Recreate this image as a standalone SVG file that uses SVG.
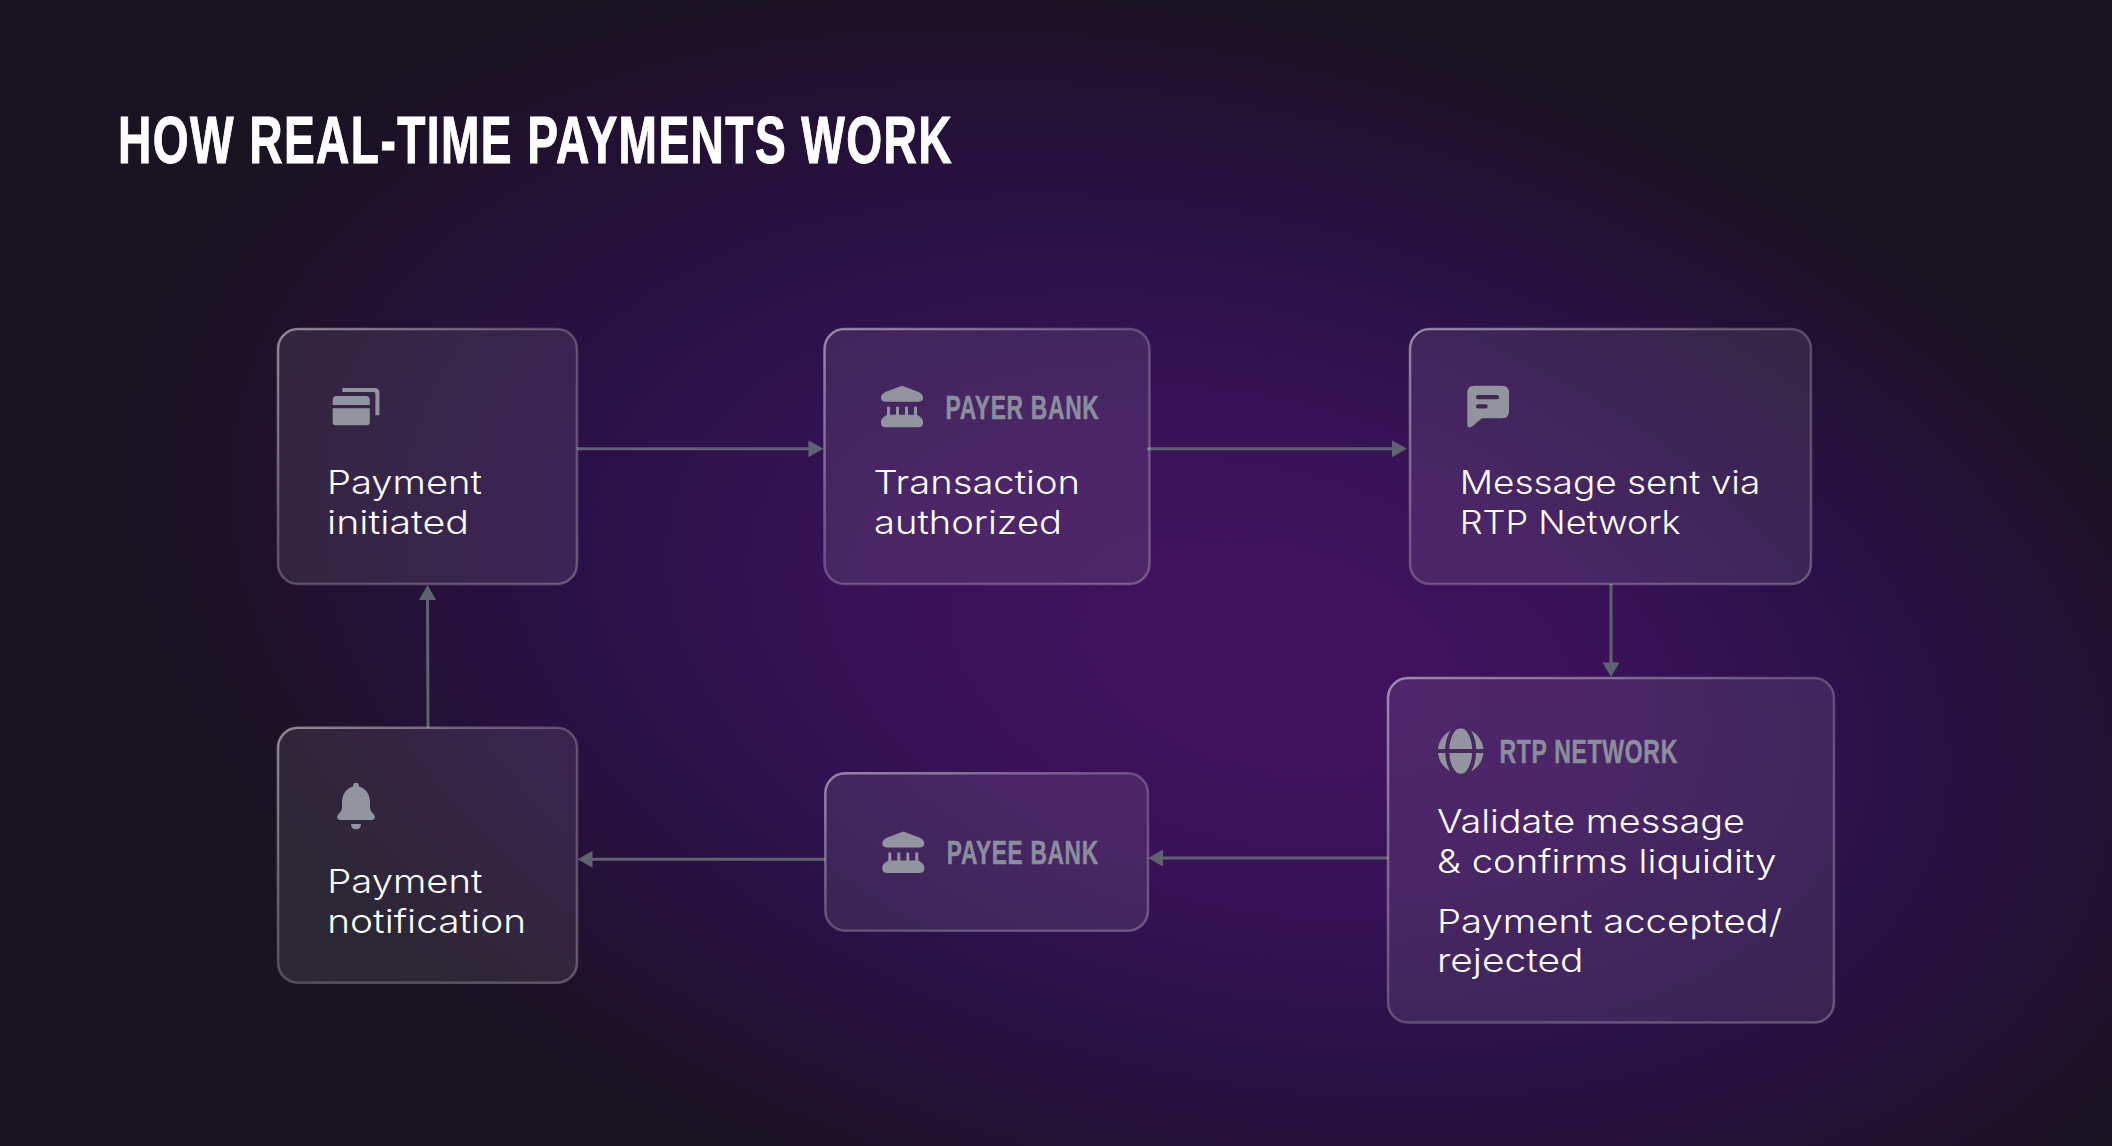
<svg xmlns="http://www.w3.org/2000/svg" xmlns:xlink="http://www.w3.org/1999/xlink" width="2112" height="1146" viewBox="0 0 2112 1146">
<style>
.node{fill:url(#nodeFill);stroke:url(#nodeStroke);stroke-width:2.5}
.body{font-family:"Inter","Liberation Sans",sans-serif;font-size:33px;font-weight:350;fill:#fff}
.title{font-family:"Liberation Sans Narrow","Liberation Sans",sans-serif;font-size:66px;font-weight:700;fill:#fff;stroke:#fff;stroke-width:1;letter-spacing:2px}
.tag{font-family:"Liberation Sans Narrow","Liberation Sans",sans-serif;font-size:33px;font-weight:700;fill:#8b8e9c;stroke:#8b8e9c;stroke-width:.5;letter-spacing:1px}
.icon{fill:#92949f}
.conn{stroke:#5f6270;stroke-width:3;fill:none}
.head{fill:#5f6270}
</style>
<defs>
<radialGradient id="bg" gradientUnits="userSpaceOnUse" cx="0" cy="0" r="1" fx=".08" fy="0" gradientTransform="translate(1200 640) rotate(14) scale(1100 640)">
<stop offset="0" stop-color="#42125f"/>
<stop offset=".33" stop-color="#3a1259"/>
<stop offset=".6" stop-color="#2b1148"/>
<stop offset=".85" stop-color="#211130"/>
<stop offset="1" stop-color="#191322"/>
</radialGradient>
<linearGradient id="nodeFill" x1="0" y1="1" x2="1" y2="0">
<stop offset="0" stop-color="#fff" stop-opacity=".085"/>
<stop offset="1" stop-color="#fff" stop-opacity=".085"/>
</linearGradient>
<linearGradient id="nodeStroke" x1="0" y1="0" x2="1" y2="1">
<stop offset="0" stop-color="#fff" stop-opacity=".48"/>
<stop offset=".5" stop-color="#fff" stop-opacity=".22"/>
<stop offset="1" stop-color="#fff" stop-opacity=".26"/>
</linearGradient>
<g id="bank">
<path d="M21 0 L37 6 Q42 8 42 12 Q42 16 37 16 H5 Q0 16 0 12 Q0 8 5 6 Z"/>
<path d="M6 21h3v9h-3zM15 21h3v9h-3zM24 21h3v9h-3zM33 21h3v9h-3z"/>
<path d="M6 29 H36 L39 31 Q42 33 42 36 V37 Q42 41.600 37 41.600 H5 Q0 41.600 0 37 V36 Q0 33 3 31 Z"/>
</g>
</defs>
<rect width="2112" height="1146" fill="url(#bg)"/>
<text class="title" x="118" y="162.500" textLength="835" lengthAdjust="spacingAndGlyphs">HOW REAL-TIME PAYMENTS WORK</text>
<g id="connectors">
<line class="conn" x1="577" y1="448.700" x2="810" y2="448.700"/><path class="head" d="M823.300 448.700L808.400 440.200V457.200Z"/>
<line class="conn" x1="1147" y1="448.700" x2="1394" y2="448.700"/><path class="head" d="M1407 448.700L1392 440.200V457.200Z"/>
<line class="conn" x1="1611" y1="584" x2="1611" y2="664"/><path class="head" d="M1611 677L1602.500 662.500H1619.500Z"/>
<line class="conn" x1="1388" y1="858" x2="1160" y2="858"/><path class="head" d="M1148.300 858L1163 849.500V866.500Z"/>
<line class="conn" x1="825" y1="859.300" x2="590" y2="859.300"/><path class="head" d="M577.700 859.300L592.500 850.800V867.800Z"/>
<line class="conn" x1="428" y1="727.500" x2="427.500" y2="598"/><path class="head" d="M427.500 585L419 600H436Z"/>
</g>
<g id="node-payment-initiated">
<rect class="node" x="278" y="329" width="299" height="255" rx="20"/>
<path class="icon" d="M342.300 388H374.400Q379.400 388 379.400 393V415.300H375.400V394Q375.400 392 373.400 392H342.300Z"/>
<path class="icon" d="M336.700 396H365.800Q369.800 396 369.800 400V405H332.700V400Q332.700 396 336.700 396ZM332.700 408.300H369.800V422.300Q369.800 425.300 366.800 425.300H335.700Q332.700 425.300 332.700 422.300Z"/>
<text class="body" x="327" y="494" textLength="155" lengthAdjust="spacingAndGlyphs">Payment</text>
<text class="body" x="327" y="534" textLength="142" lengthAdjust="spacingAndGlyphs">initiated</text>
</g>
<g id="node-payer-bank">
<rect class="node" x="824.500" y="329" width="325" height="255" rx="20"/>
<use class="icon" xlink:href="#bank" href="#bank" x="881" y="385.700"/>
<text class="tag" x="945.500" y="418.700" textLength="154" lengthAdjust="spacingAndGlyphs">PAYER BANK</text>
<text class="body" x="873.500" y="494" textLength="206.500" lengthAdjust="spacingAndGlyphs">Transaction</text>
<text class="body" x="874" y="534" textLength="188" lengthAdjust="spacingAndGlyphs">authorized</text>
</g>
<g id="node-message-sent">
<rect class="node" x="1410" y="329" width="401" height="255" rx="20"/>
<path class="icon" d="M1474.300 385.700H1502Q1509 385.700 1509 392.700V411.300Q1509 418.300 1502 418.300H1482L1472 426.500Q1467.300 429.500 1467.300 424V392.700Q1467.300 385.700 1474.300 385.700Z"/>
<rect x="1476" y="395" width="23" height="4.300" rx="2.100" fill="#3e2952"/>
<rect x="1476" y="404.300" width="11.700" height="4.300" rx="2.100" fill="#3e2952"/>
<text class="body" x="1459.700" y="494" textLength="300.600" lengthAdjust="spacingAndGlyphs">Message sent via</text>
<text class="body" x="1459.700" y="534" textLength="221" lengthAdjust="spacingAndGlyphs">RTP Network</text>
</g>
<g id="node-rtp-network">
<rect class="node" x="1388" y="678" width="446" height="344.500" rx="20"/>
<circle class="icon" cx="1460.700" cy="751" r="22.800"/>
<ellipse cx="1460.700" cy="751" rx="13.500" ry="25" fill="none" stroke="#48285f" stroke-width="4"/>
<rect x="1436" y="749" width="50" height="4" fill="#48285f"/>
<text class="tag" x="1499.500" y="763.300" textLength="178.500" lengthAdjust="spacingAndGlyphs">RTP NETWORK</text>
<text class="body" x="1437" y="833.300" textLength="308" lengthAdjust="spacingAndGlyphs">Validate message</text>
<text class="body" x="1437" y="872.700" textLength="339.500" lengthAdjust="spacingAndGlyphs">&amp; confirms liquidity</text>
<text class="body" x="1437" y="932.700" textLength="345" lengthAdjust="spacingAndGlyphs">Payment accepted/</text>
<text class="body" x="1437" y="972" textLength="146.500" lengthAdjust="spacingAndGlyphs">rejected</text>
</g>
<g id="node-payee-bank">
<rect class="node" x="825.300" y="773.300" width="322.700" height="157.400" rx="20"/>
<use class="icon" xlink:href="#bank" href="#bank" x="882.300" y="831.500"/>
<text class="tag" x="946.800" y="864" textLength="152" lengthAdjust="spacingAndGlyphs">PAYEE BANK</text>
</g>
<g id="node-payment-notification">
<rect class="node" x="278" y="727.700" width="299" height="255" rx="20"/>
<path class="icon" d="M356 782.700Q359 782.700 359 786.500Q370 790 370 803V808Q370 811 373 813.500Q375 815.500 375 817Q375 820 371 820H341Q337 820 337 817Q337 815.500 339 813.500Q342 811 342 808V803Q342 790 353 786.500Q353 782.700 356 782.700ZM351 824H361Q361 829.300 356 829.300Q351 829.300 351 824Z"/>
<text class="body" x="327.300" y="893.300" textLength="155" lengthAdjust="spacingAndGlyphs">Payment</text>
<text class="body" x="327.300" y="932.700" textLength="198.700" lengthAdjust="spacingAndGlyphs">notification</text>
</g>
</svg>
